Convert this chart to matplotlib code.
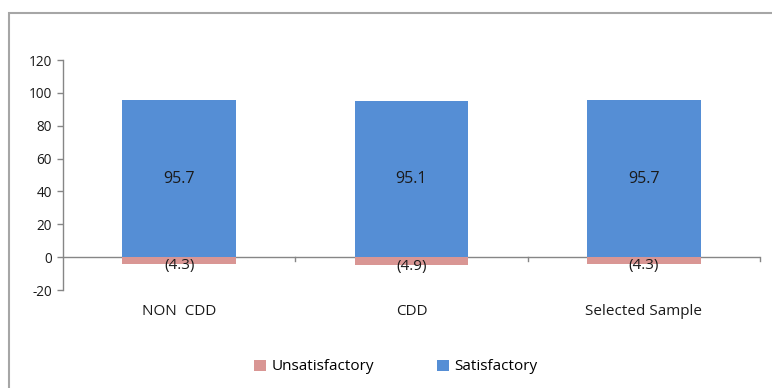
import matplotlib
matplotlib.use("Agg")
import matplotlib.pyplot as plt
from matplotlib.patches import Rectangle
import numpy as np

categories = ["NON  CDD", "CDD", "Selected Sample"]
satisfactory = [95.7, 95.1, 95.7]
unsatisfactory = [-4.3, -4.9, -4.3]
yticks = [-20, 0, 20, 40, 60, 80, 100, 120]

plt.rcParams['font.family'] = ['Open Sans', 'DejaVu Sans']

fig = plt.figure(figsize=(7.72, 3.88), dpi=100)
ax = fig.add_axes([63/772, 1-290/388, 697/772, 230/388])

x = np.arange(len(categories))
blue = "#558ED5"
pink = "#D99694"
w = 0.49
ax.bar(x, unsatisfactory, width=w, color=pink, label="Unsatisfactory", zorder=2)
ax.bar(x, satisfactory, width=w, color=blue, label="Satisfactory", zorder=2)

for xi, v in zip(x, satisfactory):
    ax.text(xi, v/2, f"{v:.1f}", ha="center", va="center", fontsize=11.5, color="#1a1a1a", zorder=4)
for xi, v in zip(x, unsatisfactory):
    ax.text(xi, v - 0.8, f"({abs(v):.1f})", ha="center", va="center", fontsize=11, color="#1a1a1a", zorder=4)

ax.set_xlim(-0.5, 2.5)
ax.set_ylim(-20, 120)
ax.set_yticks(yticks)
ax.set_yticklabels([str(t) for t in yticks], fontsize=9.8, color="#1a1a1a")
ax.tick_params(axis="y", direction="out", length=4, color="#868686", width=1, pad=4)
ax.set_xticks([])
for s in ["top", "right", "bottom"]:
    ax.spines[s].set_visible(False)
ax.spines["left"].set_color("#868686")
ax.spines["left"].set_linewidth(1)

# zero line with boundary ticks
ax.axhline(0, color="#868686", lw=1, zorder=1)
for b in [0.5, 1.5, 2.5]:
    ax.plot([b, b], [0, -2.3], color="#868686", lw=1, zorder=1, clip_on=False)

# category labels
for xi, c in zip(x, categories):
    ax.text(xi, -33, c, ha="center", va="center", fontsize=11, color="#1a1a1a")

handles, labels = ax.get_legend_handles_labels()
fig.legend(handles, labels, loc="center", bbox_to_anchor=(0.513, 1-367/388), ncol=2,
           frameon=False, fontsize=11, handlelength=0.75, handleheight=0.75,
           columnspacing=4.1, handletextpad=0.4)

# outer chart border
fig.patches.append(Rectangle((9/772, -0.1), 1.2, 1-13/388+0.1, transform=fig.transFigure,
                             fill=False, edgecolor="#A6A6A6", lw=1.5))

fig.savefig("out.png", dpi=100)
